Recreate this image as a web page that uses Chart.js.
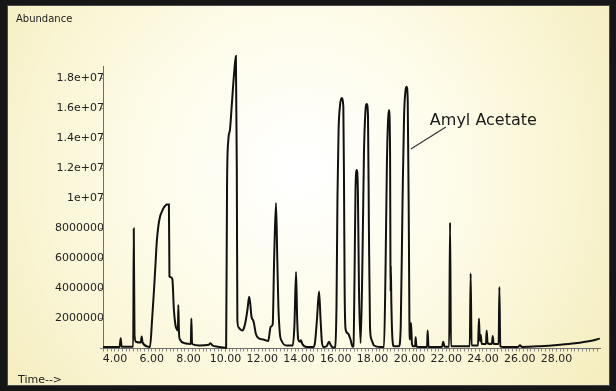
<!DOCTYPE html>
<html>
<head>
<meta charset="utf-8">
<script src="https://cdn.jsdelivr.net/npm/chart.js@4.4.1/dist/chart.umd.min.js"></script>
<style>
  html, body { margin: 0; padding: 0; background: #161616; }
  #wrap { width: 616px; height: 391px; }
</style>
</head>
<body>
<div id="wrap"><canvas id="chromChart" width="616" height="391"></canvas></div>
<script>
// Retention time (min) of each trace point
const times = [
    3.35, 4.25, 4.31, 4.36, 4.99, 5.02, 5.06, 5.14, 5.40, 5.45, 5.50, 5.81, 5.90,
    6.02, 6.12, 6.20, 6.27, 6.36, 6.45, 6.54, 6.63, 6.72, 6.82, 6.93, 6.96, 7.04,
    7.12, 7.20, 7.28, 7.33, 7.42, 7.44, 7.48, 7.53, 7.80, 8.12, 8.15, 8.19, 8.60,
    9.10, 9.18, 9.30, 9.60, 9.99, 10.04, 10.09, 10.16, 10.25, 10.34, 10.47, 10.57,
    10.62, 10.65, 10.72, 10.79, 10.90, 10.97, 11.08, 11.20, 11.29, 11.35, 11.42,
    11.50, 11.55, 11.65, 11.79, 12.06, 12.33, 12.42, 12.46, 12.57, 12.65, 12.75,
    12.82, 12.88, 12.96, 13.06, 13.33, 13.66, 13.75, 13.84, 13.90, 13.96, 14.05,
    14.11, 14.18, 14.42, 14.78, 14.87, 14.98, 15.09, 15.17, 15.24, 15.32, 15.50,
    15.63, 15.74, 15.86, 15.96, 16.04, 16.09, 16.15, 16.23, 16.32, 16.41, 16.45,
    16.48, 16.53, 16.66, 16.80, 16.91, 16.96, 17.02, 17.07, 17.14, 17.20, 17.26,
    17.35, 17.45, 17.53, 17.61, 17.68, 17.75, 17.80, 17.86, 17.94, 18.08, 18.40,
    18.62, 18.70, 18.78, 18.84, 18.89, 18.95, 18.97, 18.98, 18.99, 19.02, 19.08,
    19.16, 19.43, 19.53, 19.63, 19.71, 19.79, 19.85, 19.91, 19.97, 20.00, 20.03,
    20.09, 20.14, 20.21, 20.31, 20.34, 20.38, 20.48, 20.96, 20.99, 21.04, 21.77,
    21.84, 21.91, 22.16, 22.21, 22.26, 23.28, 23.33, 23.38, 23.73, 23.78, 23.83,
    23.88, 23.93, 24.16, 24.20, 24.25, 24.48, 24.53, 24.58, 24.85, 24.89, 24.94,
    25.09, 25.90, 26.01, 26.12, 27.10, 28.18, 29.00, 29.82, 30.35
];

// Abundance at each point, in millions of counts
const abundance = [
    0.10, 0.10, 0.68, 0.12, 0.12, 8.0, 0.9, 0.45, 0.40, 0.80, 0.40, 0.12, 0.10,
    2.0, 3.9, 5.6, 7.1, 8.2, 8.8, 9.1, 9.35, 9.5, 9.6, 9.6, 4.8, 4.75,
    4.6, 2.6, 1.6, 1.35, 1.2, 2.9, 1.0, 0.6, 0.35, 0.3, 2.0, 0.3, 0.2,
    0.25, 0.35, 0.2, 0.12, 0.05, 0.05, 11.0, 13.9, 14.6, 16.1, 18.3, 19.5,
    12.0, 1.9, 1.4, 1.3, 1.2, 1.25, 1.7, 2.6, 3.45, 3.0, 2.1,
    1.9, 1.7, 1.0, 0.7, 0.6, 0.5, 1.2, 1.45, 1.6, 6.0, 9.7,
    6.0, 2.8, 1.0, 0.5, 0.2, 0.2, 1.5, 5.1, 2.0, 0.6, 0.45,
    0.55, 0.3, 0.1, 0.1, 0.4, 2.0, 3.8, 2.0, 0.5, 0.1, 0.15,
    0.45, 0.2, 0.05, 0.1, 3.0, 10.0, 14.5, 16.2, 16.7, 16.1, 10.3,
    4.0, 1.3, 1.0, 0.6, 0.12, 0.15, 5.0, 10.5, 11.9, 10.5, 4.0,
    0.35, 6.0, 13.0, 15.8, 16.3, 15.5, 8.0, 1.4, 0.6, 0.2, 0.1,
    0.1, 5.0, 12.5, 15.2, 15.9, 13.0, 5.6, 3.8, 5.5, 3.0, 0.6,
    0.15, 0.15, 1.5, 10.0, 15.5, 17.2, 17.45, 16.5, 8.0, 2.0, 0.6,
    1.7, 0.3, 0.15, 0.15, 0.75, 0.15, 0.1, 0.1, 1.2, 0.1, 0.1,
    0.45, 0.12, 0.12, 8.4, 0.15, 0.15, 5.0, 0.2, 0.2, 2.0, 0.5,
    0.9, 0.3, 0.3, 1.2, 0.35, 0.3, 0.83, 0.3, 0.3, 4.1, 0.15,
    0.1, 0.1, 0.22, 0.1, 0.15, 0.25, 0.35, 0.5, 0.66
];

// Axis ranges
const timeMin = 3.348, timeMax = 30.359;
const abundanceMax = 18.8;

// Labelled peak
const peakLabel = 'Amyl Acetate';
const peakPointer = { time: 20.08, abundance: 13.3 };

const chromData = times.map((t, i) => ({ x: t, y: abundance[i] }));

// Paper background and dark frame
const framePlugin = {
    id: 'frame',
    beforeDraw(chart) {
        const c = chart.ctx;
        const w = chart.width, h = chart.height;
        c.save();
        c.fillStyle = '#161616';
        c.fillRect(0, 0, w, h);
        const g = c.createRadialGradient(300, 170, 10, 300, 170, 420);
        g.addColorStop(0, '#ffffff');
        g.addColorStop(0.4, '#fdfbe6');
        g.addColorStop(1, '#f3eab4');
        c.fillStyle = g;
        c.fillRect(7, 5, w - 13, h - 10);
        c.strokeStyle = '#4a4a4a';
        c.lineWidth = 1;
        c.strokeRect(7.5, 5.5, w - 14, h - 11);
        c.restore();
    }
};

// Axis captions and the peak annotation
const captionPlugin = {
    id: 'captions',
    afterDraw(chart) {
        const c = chart.ctx;
        const xs = chart.scales.x, ys = chart.scales.y;
        c.save();
        c.fillStyle = '#222';
        c.textBaseline = 'alphabetic';
        c.font = '10px "DejaVu Sans"';
        c.fillText('Abundance', 16, 22);
        c.font = '11px "DejaVu Sans"';
        c.fillText('Time-->', 18, 383);

        const px = xs.getPixelForValue(peakPointer.time);
        const py = ys.getPixelForValue(peakPointer.abundance);
        c.strokeStyle = '#333';
        c.lineWidth = 1.2;
        c.beginPath();
        c.moveTo(px, py);
        c.lineTo(px + 35, py - 22);
        c.stroke();
        c.font = '16px "DejaVu Sans"';
        c.fillStyle = '#1a1a1a';
        c.fillText(peakLabel, px + 19, py - 24);
        c.restore();
    }
};

const chromCtx = document.getElementById('chromChart').getContext('2d');
const chromChart = new Chart(chromCtx, {
    type: 'line',
    data: {
        datasets: [{
            data: chromData,
            borderColor: '#111',
            borderWidth: 2,
            pointRadius: 0,
            fill: false,
            cubicInterpolationMode: 'monotone',
            clip: false
        }]
    },
    options: {
        responsive: false,
        animation: false,
        devicePixelRatio: 1,
        layout: { padding: { left: 0, right: 16, top: 66.5, bottom: 22.5 } },
        plugins: {
            legend: { display: false },
            tooltip: { enabled: false }
        },
        scales: {
            x: {
                type: 'linear',
                min: timeMin,
                max: timeMax,
                afterFit: s => { s.height = 20; },
                border: { display: true, color: '#6e6e6e', width: 1 },
                grid: { drawOnChartArea: false, drawTicks: true, tickLength: 3, color: '#8a8a8a' },
                ticks: {
                    stepSize: 0.2,
                    autoSkip: false,
                    includeBounds: false,
                    maxRotation: 0,
                    padding: 1,
                    color: '#222',
                    font: { family: 'DejaVu Sans', size: 11 },
                    callback: v => (v >= 3.9 && v <= 29 && Math.abs(v / 2 - Math.round(v / 2)) < 1e-6) ? v.toFixed(2) : ''
                }
            },
            y: {
                min: 0,
                max: abundanceMax,
                afterFit: s => { s.width = 103; },
                border: { display: true, color: '#6e6e6e', width: 1 },
                grid: { drawOnChartArea: false, drawTicks: true, tickLength: 3, color: '#8a8a8a' },
                ticks: {
                    stepSize: 1,
                    includeBounds: false,
                    padding: -4,
                    color: '#222',
                    font: { family: 'DejaVu Sans', size: 11 },
                    callback: v => {
                        if (v <= 0 || v % 2 !== 0) return '';
                        return v >= 10 ? (v / 10) + 'e+07' : String(v * 1000000);
                    }
                }
            }
        }
    },
    plugins: [framePlugin, captionPlugin]
});
</script>
</body>
</html>
